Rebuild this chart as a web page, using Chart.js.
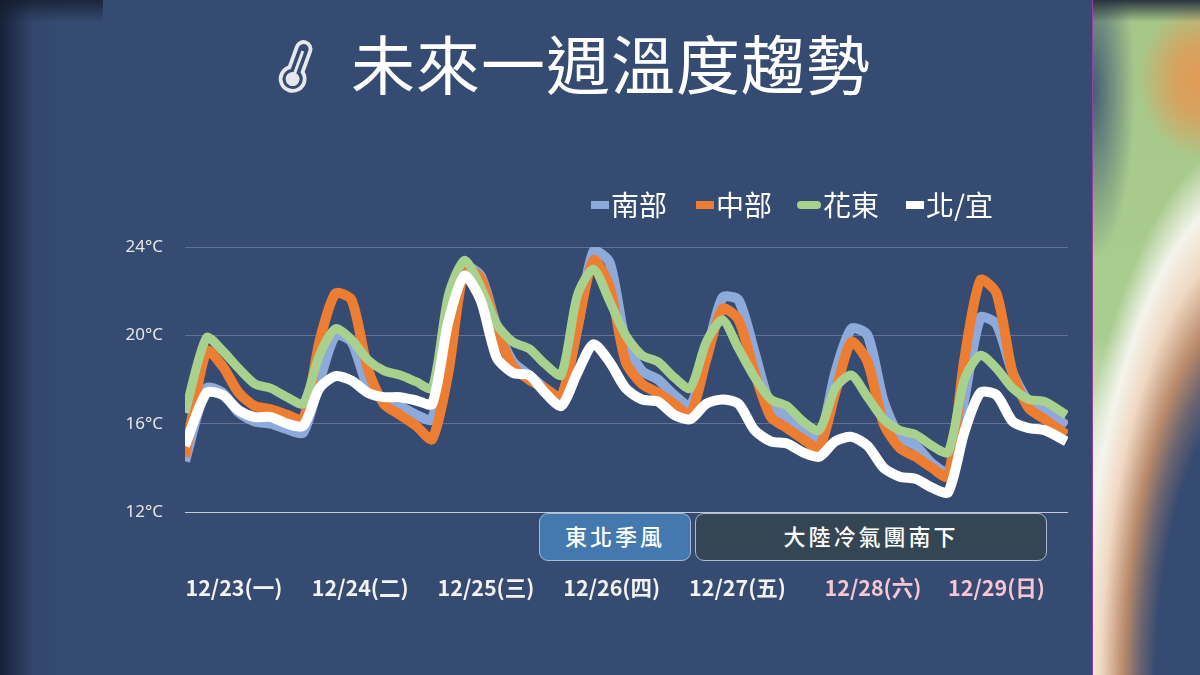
<!DOCTYPE html>
<html>
<head>
<meta charset="utf-8">
<script src="https://cdn.jsdelivr.net/npm/chart.js@4"></script>
<style>
  html,body{margin:0;padding:0;width:1200px;height:675px;overflow:hidden;background:#364b71;font-family:"Noto Sans CJK TC","Noto Sans",sans-serif;}
  #left{position:absolute;left:0;top:0;width:103px;height:675px;background:linear-gradient(180deg,rgba(20,28,45,.8) 0,rgba(20,28,45,0) 22px),linear-gradient(90deg,#172238 0,#1e2c49 10px,#32466b 32px,#364b71 60px);}
  #right{position:absolute;left:1092px;top:0;width:108px;height:675px;box-sizing:border-box;border-left:1px solid #9a3fa0;
    background:
      linear-gradient(180deg,rgba(35,45,60,.95) 0,rgba(35,45,60,0) 22px),
      radial-gradient(ellipse 62px 78px at 108px 80px,#e29a55 0,rgba(226,154,85,.8) 45%,rgba(226,154,85,0) 100%),
      radial-gradient(ellipse 200px 560px at 170px 690px,#364b71 0,#364b71 54%,#6c6570 62%,#ba8a6b 70%,#f0d8c2 81%,#f4f4ec 90%,rgba(244,244,236,0) 100%),
      radial-gradient(ellipse 42px 170px at 0 90px,rgba(62,88,115,.95) 0,rgba(62,88,115,0) 100%),
      linear-gradient(180deg,#a6c688 0,#a9cd90 50%,#eef2e4 72%,#f8f0e6 100%);}
  #panel{position:absolute;left:103px;top:0;width:989px;height:675px;background:#364b71;}
  #wrap{position:absolute;left:0;top:0;width:1200px;height:675px;}
  #title{position:absolute;left:351px;top:16px;font-size:64px;line-height:90px;letter-spacing:1px;color:#fff;font-weight:400;white-space:nowrap;}
  #icon{position:absolute;left:276px;top:35px;}
  .leg{position:absolute;top:184px;font-size:28px;line-height:40px;color:#fff;white-space:nowrap;}
  .mark{position:absolute;height:8px;top:201px;}
  .box{position:absolute;top:513px;height:46px;border:1px solid #a9b9d2;border-radius:9px;color:#fff;font-size:22px;font-weight:500;line-height:43px;text-align:center;letter-spacing:3px;}
</style>
</head>
<body>
<div id="left"></div><div id="right"></div><div id="panel"></div>
<div id="wrap"><canvas id="chart" width="1200" height="675"></canvas></div>
<svg id="icon" width="46" height="60" viewBox="0 0 46 60" fill="none">
  <g transform="rotate(20 17 40)">
    <path d="M11 34V12a7 7 0 0 1 14 0V34a12 12 0 1 1-14 0Z" stroke="#e6e8ee" stroke-width="3.8"/>
    <circle cx="18" cy="44" r="7" fill="#e6e8ee"/>
    <rect x="16.5" y="14" width="3" height="26" fill="#e6e8ee"/>
  </g>
</svg>
<div id="title">未來一週溫度趨勢</div>
<div class="box" style="left:539px;width:150px;background:#4479b0;">東北季風</div>
<div class="box" style="left:695px;width:350px;background:#344553;">大陸冷氣團南下</div>
<script>
// sample times in hours from the left edge of the plot
const hours = [0,4,7,10,13,16,19,22,25,28,31,34,37,40,43,46,49,52,55,58,61,64,67,70,73,76,79,82,85,88,91,94,97,100,103,106,109,112,115,118,121,124,127,130,133,136,139,142,145,148,151,154,157,160,164];

const south = [14.3,17.6,17.4,16.5,16.1,16.0,15.75,15.6,17.9,20.0,19.7,17.7,17.1,16.8,16.4,16.2,20.3,23.1,22.7,20.4,18.8,18.2,17.6,17.2,20.3,23.8,23.3,19.7,18.4,18.0,17.3,16.8,19.1,21.7,21.6,19.2,16.8,16.3,15.7,15.3,18.3,20.3,20.0,17.0,15.4,15.0,14.2,13.8,17.1,20.8,20.5,18.3,17.0,16.7,15.9];
const central = [14.5,19.3,18.6,17.4,16.8,16.65,16.4,16.2,19.7,21.9,21.6,18.5,16.9,16.4,15.9,15.3,18.3,23.0,22.6,20.3,18.6,18.0,17.6,17.2,20.3,23.4,22.2,18.8,17.8,17.4,16.9,16.4,18.9,21.2,20.7,18.3,16.3,15.8,15.3,14.9,17.4,19.7,18.8,16.0,14.9,14.5,14.0,13.6,18.9,22.5,21.9,18.3,16.7,16.2,15.5];
const east = [16.5,19.9,19.3,18.5,17.8,17.6,17.2,16.9,19.1,20.3,19.8,18.9,18.4,18.2,17.9,17.6,21.8,23.4,22.2,20.5,19.7,19.4,18.7,18.2,21.8,23.0,21.55,20.0,19.1,18.8,18.1,17.6,19.7,20.7,19.4,18.1,17.1,16.8,16.1,15.7,17.6,18.2,17.2,16.2,15.7,15.5,15.0,14.7,18.0,19.1,18.5,17.6,17.1,17.0,16.4];
const north = [15.0,17.4,17.3,16.6,16.3,16.3,16.0,15.9,17.6,18.15,17.95,17.4,17.2,17.2,17.05,16.9,20.6,22.7,21.6,19.0,18.3,18.2,17.4,16.8,18.3,19.6,18.8,17.6,17.1,17.0,16.4,16.2,16.9,17.1,16.9,15.7,15.2,15.1,14.7,14.5,15.2,15.4,15.0,14.0,13.6,13.5,13.1,12.9,15.6,17.4,17.3,16.1,15.8,15.7,15.2];

const seriesNames = ['南部','中部','花東','北/宜'];
const seriesColors = ['#8eaadb','#ed7d31','#a9d18e','#ffffff'];
const seriesValues = [south,central,east,north];
const seriesWidths = [10,10,9,10];

const yTicks = [12,16,20,24];
const dayLabels = ['12/23(一)','12/24(二)','12/25(三)','12/26(四)','12/27(五)','12/28(六)','12/29(日)'];
const dayHours = [9.1,32.6,56,79.4,102.8,128,151];
const dayColors = ['#f2f2f2','#f2f2f2','#f2f2f2','#f2f2f2','#f2f2f2','#f6c6d4','#f6c6d4'];

// legend sits above the plot, same order as the series
const legendLeft = [591,696,797,906];
const legendWidth = [18,18,24,18];
seriesNames.forEach(function(n,i){
  const m = document.createElement('div');
  m.className = 'mark';
  m.style.left = legendLeft[i]+'px';
  m.style.width = legendWidth[i]+'px';
  m.style.background = seriesColors[i];
  if(i===2) m.style.borderRadius = '4px';
  document.body.appendChild(m);
  const t = document.createElement('div');
  t.className = 'leg';
  t.textContent = n;
  t.style.left = (legendLeft[i]+legendWidth[i]+2)+'px';
  document.body.appendChild(t);
});

new Chart(document.getElementById('chart').getContext('2d'), {
  type: 'line',
  data: {
    datasets: seriesNames.map(function(n,i){
      return {
        label: n,
        data: hours.map(function(h,k){ return {x:h,y:seriesValues[i][k]}; }),
        borderColor: seriesColors[i],
        borderWidth: seriesWidths[i],
        order: seriesNames.length-i,  // later series on top
        pointRadius: 0,
        tension: 0.25,
        borderJoinStyle: 'round',
        fill: false
      };
    })
  },
  options: {
    responsive: false,
    animation: false,
    layout: {padding:{top:247,right:132,bottom:63,left:0}},
    plugins: {legend:{display:false},tooltip:{enabled:false}},
    scales: {
      x: {
        type: 'linear', min: 0, max: 164.3,
        grid: {display:false}, border: {display:false},
        afterFit: function(s){ s.height = 100; },
        afterBuildTicks: function(s){ s.ticks = dayHours.map(function(h){ return {value:h}; }); },
        ticks: {
          autoSkip: false, maxRotation: 0, padding: 55,
          font: {family:'"Noto Sans CJK TC"',size:21.5,weight:'700'},
          color: function(c){ return dayColors[c.index]; },
          callback: function(v,i){ return dayLabels[i]; }
        }
      },
      y: {
        min: 12, max: 24,
        afterFit: function(s){ s.width = 185; },
        afterBuildTicks: function(s){ s.ticks = yTicks.map(function(v){ return {value:v}; }); },
        grid: {
          drawTicks: false,
          color: function(c){ return c.tick && c.tick.value===12 ? 'rgba(255,255,255,0.7)' : 'rgba(255,255,255,0.22)'; },
          lineWidth: 1
        },
        border: {display:false},
        ticks: {
          padding: 22,
          font: {family:'"Noto Sans"',size:17},
          color: '#e6e6e6',
          callback: function(v){ return v+'°C'; }
        }
      }
    }
  }
});
</script>
</body>
</html>
